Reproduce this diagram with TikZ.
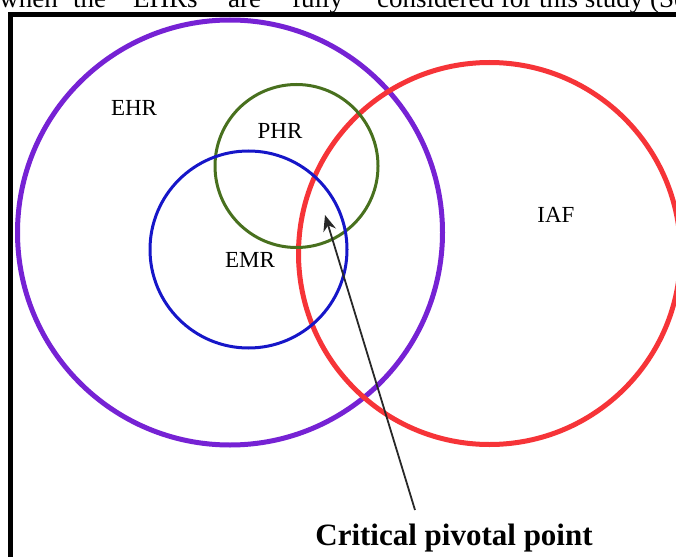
\documentclass[tikz,border=0pt]{standalone}
\usepackage{fontspec}
\setmainfont{Liberation Serif}
\usetikzlibrary{arrows.meta}
\definecolor{ehrc}{RGB}{118,34,212}
\definecolor{phrc}{RGB}{72,112,30}
\definecolor{emrc}{RGB}{22,22,200}
\definecolor{iafc}{RGB}{246,52,56}
\definecolor{arrc}{RGB}{40,40,40}
\tikzset{
  ring/.style={circle, draw, inner sep=0pt},
  lbl/.style={font=\fontsize{23}{26}\selectfont, inner sep=0pt},
  toptext/.style={font=\fontsize{27}{31}\selectfont, inner sep=0pt, anchor=base west},
  pointer/.style={draw=arrc, line width=1.8pt, -{Stealth[length=16pt,width=13pt]}}
}
\begin{document}
\begin{tikzpicture}[x=1pt,y=-1pt]
\useasboundingbox (0,0) rectangle (676,556);
\clip (0,0) rectangle (676,556);
% clipped line of text above the frame
\node[toptext, anchor=base east] (w1) at (58,8) {when};
\node[toptext] (w2) at (73,8) {the};
\node[toptext] (w3) at (133,8) {EHRs};
\node[toptext] (w4) at (228,8) {are};
\node[toptext] (w5) at (292,8) {fully};
\node[toptext] (w6) at (377,8) {considered for this study (See};
% frame
\draw[line width=5pt] (10,560) -- (10,14.5) -- (680,14.5);
% circles
\node[ring, draw=ehrc, line width=5pt, minimum size=425pt] (ehr) at (230,232.5) {};
\node[ring, draw=iafc, line width=5pt, minimum size=382pt] (iaf) at (489.5,253.5) {};
\node[ring, draw=phrc, line width=3pt, minimum size=163pt] (phr) at (296.5,166) {};
\node[ring, draw=emrc, line width=3pt, minimum size=197pt] (emr) at (248.5,249.5) {};
% labels
\node[lbl] (tehr) at (134,108) {EHR};
\node[lbl] (tphr) at (280,131) {PHR};
\node[lbl] (temr) at (250,260) {EMR};
\node[lbl] (tiaf) at (556,215) {IAF};
\node[font=\bfseries\fontsize{31}{36}\selectfont, inner sep=0pt, anchor=base] (cpp) at (454,545) {Critical pivotal point};
% arrow
\coordinate (tail) at (415,510);
\coordinate (tip) at (325,215);
\draw[pointer] (tail) -- (tip);
\end{tikzpicture}
\end{document}
